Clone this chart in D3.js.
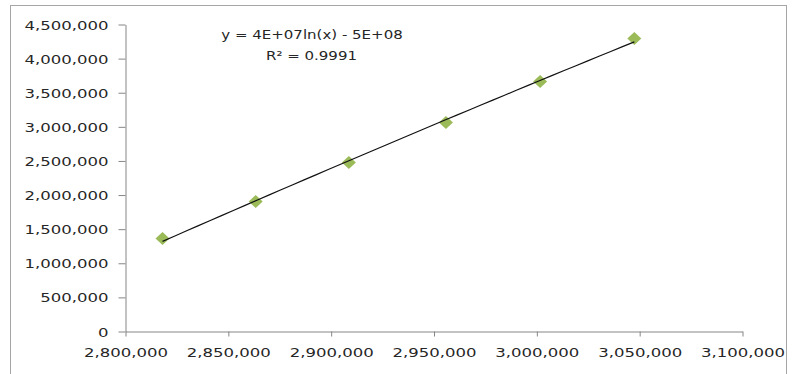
<!DOCTYPE html>
<html><head><meta charset="utf-8">
<script src="https://cdn.jsdelivr.net/npm/d3@7"></script>
<style>body{margin:0;background:#fff}svg{display:block}</style>
</head><body>
<svg id="chart" width="793" height="374"></svg>
<script>
// ---- data ----
const xValues = [2818000, 2863300, 2908600, 2955800, 3001600, 3047400];
const yValues = [1363000, 1906000, 2477000, 3064000, 3665000, 4295000];
const xTicks = [2800000, 2850000, 2900000, 2950000, 3000000, 3050000, 3100000];
const yTicks = [0, 500000, 1000000, 1500000, 2000000, 2500000, 3000000, 3500000, 4000000, 4500000];
const equationLabel = "y = 4E+07ln(x) - 5E+08";
const r2Label = "R\u00B2 = 0.9991";

(function () {
// ---- layout ----
const svg = d3.select("#chart");
const pLeft = 125.5, pRight = 742.5, pTop = 24.5, pBottom = 331.5;
const x = d3.scaleLinear().domain([2800000, 3100000]).range([pLeft, pRight]);
const y = d3.scaleLinear().domain([0, 4500000]).range([pBottom, pTop]);
const fontFam = "'DejaVu Sans', Verdana, sans-serif";
const textColor = "#262626";
const sx = 1.27;

svg.append("rect").attr("x", 0).attr("y", 0).attr("width", 793).attr("height", 374).attr("fill", "#fff");
svg.append("rect").attr("x", 10.5).attr("y", 5.5).attr("width", 776).attr("height", 380)
  .attr("fill", "none").attr("stroke", "#a6a6a6").attr("stroke-width", 1);

// y axis
const yAxis = svg.append("g").attr("transform", `translate(${pLeft},0)`)
  .call(d3.axisLeft(y).tickValues(yTicks).tickFormat(d3.format(",")).tickSize(7).tickSizeOuter(0));
// x axis
const xAxis = svg.append("g").attr("transform", `translate(0,${pBottom})`)
  .call(d3.axisBottom(x).tickValues(xTicks).tickFormat(d3.format(",")).tickSize(5).tickSizeOuter(0));

[yAxis, xAxis].forEach(g => {
  g.select(".domain").attr("stroke", "#868686");
  g.selectAll(".tick line").attr("stroke", "#868686");
  g.selectAll(".tick text").attr("fill", textColor).attr("font-family", fontFam).attr("font-size", 13);
});
yAxis.selectAll(".tick text").attr("x", -17 / sx).attr("dy", "0.35em").attr("transform", `scale(${sx},1)`);
xAxis.selectAll(".tick text").attr("y", 26).attr("dy", 0).attr("transform", `scale(${sx},1)`);

// logarithmic trendline fitted from the data
const lx = xValues.map(Math.log);
const mlx = d3.mean(lx), my = d3.mean(yValues);
const a = d3.sum(lx.map((v, i) => (v - mlx) * (yValues[i] - my))) / d3.sum(lx.map(v => (v - mlx) * (v - mlx)));
const b = my - a * mlx;
const x0 = d3.min(xValues), x1 = d3.max(xValues);
const trend = d3.range(0, 41).map(i => { const xv = x0 + (x1 - x0) * i / 40; return [xv, a * Math.log(xv) + b]; });

// markers
const pts = xValues.map((v, i) => [v, yValues[i]]);
svg.append("g").selectAll("path").data(pts).enter().append("path")
  .attr("transform", d => `translate(${x(d[0])},${y(d[1])})`)
  .attr("d", "M0,-6.5L7,0L0,6.5L-7,0Z")
  .attr("fill", "#9bbb59");

svg.append("path").datum(trend)
  .attr("d", d3.line().x(d => x(d[0])).y(d => y(d[1])))
  .attr("fill", "none").attr("stroke", "#111").attr("stroke-width", 1.2);

// equation labels
const eq = svg.append("g").attr("font-family", fontFam).attr("fill", textColor).attr("font-size", 12);
eq.append("text").attr("transform", `translate(312,39) scale(1.25,1)`).attr("text-anchor", "middle").text(equationLabel);
eq.append("text").attr("transform", `translate(311.5,60) scale(1.25,1)`).attr("text-anchor", "middle").text(r2Label);
})();
</script>
</body></html>
